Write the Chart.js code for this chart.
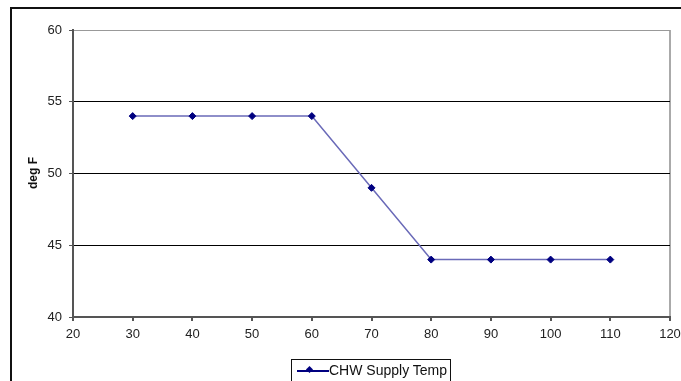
<!DOCTYPE html>
<html>
<head>
<meta charset="utf-8">
<script src="https://cdn.jsdelivr.net/npm/chart.js@4/dist/chart.umd.min.js"></script>
<style>
  html, body { margin: 0; padding: 0; background: #fff; }
  #wrap { position: relative; width: 681px; height: 381px; overflow: hidden; font-family: "Liberation Sans", Arial, sans-serif; }
  #frame { position: absolute; left: 10px; top: 7px; width: 700px; height: 400px; border-top: 2px solid #111; border-left: 2px solid #111; }
  #ytitle { position: absolute; left: 33px; top: 173px; transform: translate(-50%, -50%) rotate(-90deg); font-weight: bold; font-size: 12px; color: #111; white-space: nowrap; }
  #legend { position: absolute; left: 291px; top: 359px; width: 160px; height: 30px; border: 1px solid #111; box-sizing: border-box; }
  #legend .sample { position: absolute; left: 5px; top: 10px; width: 32px; height: 1.5px; background: #000080; }
  #legend .dot { position: absolute; left: 15px; top: 7px; width: 5px; height: 5px; background: #000080; transform: rotate(45deg); }
  #legend .label { position: absolute; left: 37px; top: 2px; font-size: 14px; color: #111; white-space: nowrap; }
  canvas { position: absolute; left: 0; top: 0; }
</style>
</head>
<body>
<div id="wrap">
  <div id="frame"></div>
  <canvas id="chart" width="681" height="381"></canvas>
  <div id="ytitle">deg F</div>
  <div id="legend"><div class="sample"></div><div class="dot"></div><div class="label">CHW Supply Temp</div></div>
</div>
<script>
// Data
const loadPoints = [30, 40, 50, 60, 70, 80, 90, 100, 110];
const supplyTemp = [54, 54, 54, 54, 49, 44, 44, 44, 44];
const seriesName = 'CHW Supply Temp';

const points = loadPoints.map((x, i) => ({ x: x, y: supplyTemp[i] }));

const tickFont = { family: '"Liberation Sans", Arial, sans-serif', size: 13 };

new Chart(document.getElementById('chart'), {
  type: 'scatter',
  data: {
    datasets: [{
      label: seriesName,
      data: points,
      showLine: true,
      borderColor: '#6a6ab8',
      borderWidth: 1.5,
      pointStyle: 'rectRot',
      pointRadius: 3.5,
      pointBackgroundColor: '#000080',
      pointBorderColor: '#000080',
      pointBorderWidth: 1,
      tension: 0
    }]
  },
  options: {
    responsive: false,
    animation: false,
    layout: { padding: { left: 0, top: 30, right: 11, bottom: 0 } },
    plugins: {
      legend: { display: false },
      tooltip: { enabled: false }
    },
    scales: {
      x: {
        type: 'linear',
        min: 20,
        max: 120,
        ticks: { stepSize: 10, color: '#222', font: tickFont, padding: 6, maxRotation: 0 },
        grid: {
          drawOnChartArea: true,
          drawTicks: true,
          tickLength: 4,
          tickColor: '#555',
          lineWidth: 2,
          color: ctx => (ctx.tick && ctx.tick.value === 120) ? '#aaa' : 'rgba(0,0,0,0)'
        },
        border: { display: true, color: '#555', width: 2 },
        afterFit: scale => {
          scale.height = 64;
          scale.paddingRight = 0;
          scale.paddingLeft = 0;
        }
      },
      y: {
        min: 40,
        max: 60,
        ticks: { stepSize: 5, color: '#222', font: tickFont, padding: 7 },
        grid: {
          drawOnChartArea: true,
          drawTicks: true,
          tickLength: 4,
          tickColor: '#555',
          lineWidth: 1,
          color: ctx => {
            if (!ctx.tick) return '#000';
            if (ctx.tick.value === 60) return '#999';
            if (ctx.tick.value === 40) return 'rgba(0,0,0,0)';
            return '#000';
          }
        },
        border: { display: true, color: '#555', width: 2 },
        afterFit: scale => {
          scale.width = 73;
          scale.paddingTop = 0;
          scale.paddingBottom = 0;
        }
      }
    }
  }
});
</script>
</body>
</html>
